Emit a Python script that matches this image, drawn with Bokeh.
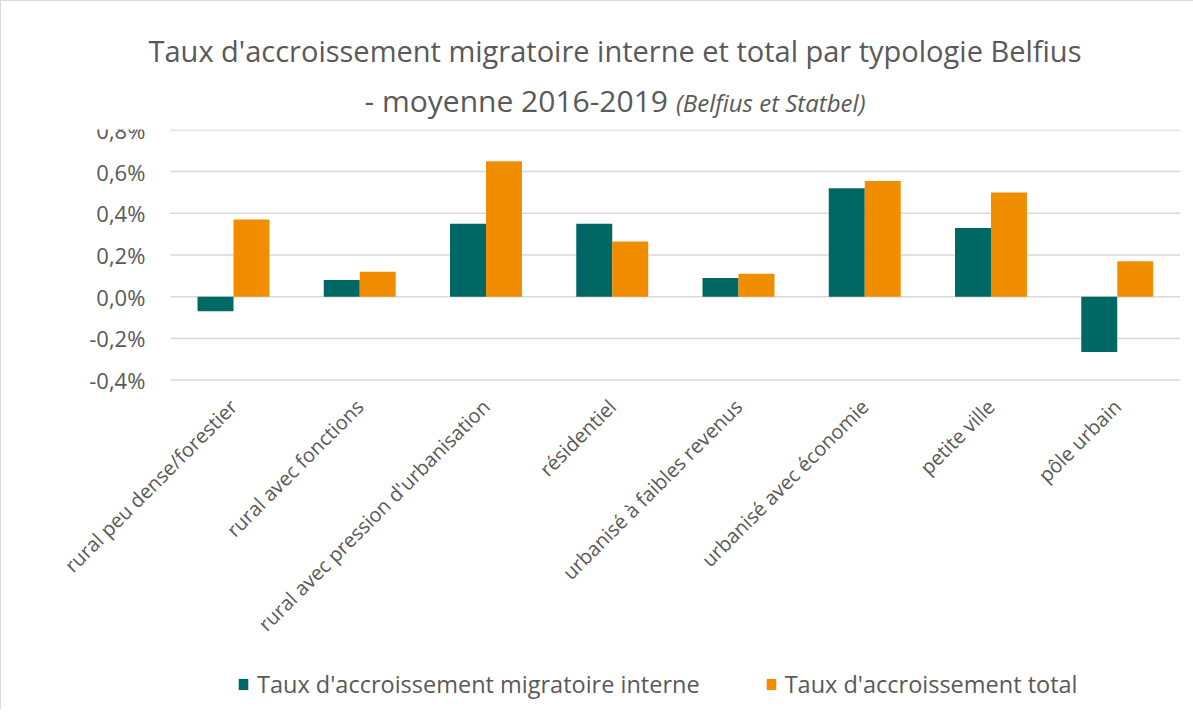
from math import pi
from bokeh.plotting import figure
from bokeh.layouts import column
from bokeh.models import Range1d, Legend, LegendItem, ColumnDataSource, Div
from bokeh.transform import dodge
from bokeh.core.properties import value
from bokeh.embed import file_html
from bokeh.resources import INLINE

categories = ["rural peu dense/forestier", "rural avec fonctions",
              "rural avec pression d'urbanisation", "résidentiel",
              "urbanisé à faibles revenus", "urbanisé avec économie",
              "petite ville", "pôle urbain"]
interne = [-0.07, 0.08, 0.35, 0.35, 0.09, 0.52, 0.33, -0.265]
total = [0.37, 0.12, 0.65, 0.265, 0.11, 0.555, 0.50, 0.17]
y_ticks = [-0.4, -0.2, 0.0, 0.2, 0.4, 0.6, 0.8]
y_labels = [f"{t:.1f}".replace(".", ",") + "%" for t in y_ticks]
series_names = ["Taux d'accroissement migratoire interne", "Taux d'accroissement total"]
title_line1 = "Taux d'accroissement migratoire interne et total par typologie Belfius"
title_line2a = "- moyenne 2016-2019"
title_line2b = "(Belfius et Statbel)"

TEAL = "#006864"
ORANGE = "#F08E00"
GREY = "#595959"
FONT = "Open Sans"

idx = list(range(len(categories)))
src = ColumnDataSource(dict(idx=idx, cat=categories, interne=interne, total=total))

title_div = Div(
    text=(f"<span style='font-size:29px'>{title_line1}</span><br>"
          f"<span style='font-size:30px'>{title_line2a}</span>"
          f"<i style='font-size:24px; margin-left:8px'>{title_line2b}</i>"),
    width=1190, height=110,
    styles={"font-family": FONT, "color": GREY,
            "text-align": "center", "line-height": "43px",
            "padding-top": "24px", "padding-left": "30px",
            "box-sizing": "border-box", "width": "1190px"})

# frame: x from page 40 to 1180 (126.25 px per category), y: 0.8 at 130 and -0.4 at 381
p = figure(x_range=Range1d(-1.5287, 7.501), y_range=Range1d(-1.9802, 0.802),
           x_axis_type=None, y_axis_type=None,
           frame_width=1140, frame_height=580, output_backend="svg", toolbar_location=None,
           min_border_left=40, min_border_right=10, min_border_top=9, min_border_bottom=0)
p.outline_line_color = None
p.border_fill_color = None
p.background_fill_color = None

# horizontal gridlines across the category span
p.segment(x0=-0.5, x1=len(categories) - 0.5, y0=y_ticks, y1=y_ticks,
          line_color="#d9d9d9", line_width=1.5)

r1 = p.vbar(x=dodge("idx", -0.1425), top="interne", bottom=0,
            width=0.285, source=src, fill_color=TEAL, line_color=None)
r2 = p.vbar(x=dodge("idx", 0.1425), top="total", bottom=0,
            width=0.285, source=src, fill_color=ORANGE, line_color=None)

# y tick labels
p.text(x=-0.5, y=y_ticks, text=y_labels, x_offset=-25,
       text_align="right", text_baseline="middle", text_color=GREY,
       text_font=value(FONT), text_font_size="22px")

# category labels, rotated 45 degrees
p.text(x="idx", y=-0.51, text="cat", source=src, angle=pi / 4,
       text_align="right", text_baseline="middle", text_color=GREY,
       text_font=value(FONT), text_font_size="20px")

legend = Legend(items=[LegendItem(label=series_names[0], renderers=[r1]),
                       LegendItem(label=series_names[1], renderers=[r2])],
                location=(197, 9), orientation="horizontal",
                border_line_color=None, background_fill_color=None,
                padding=0, margin=0, spacing=65, glyph_width=12, glyph_height=14,
                label_standoff=8, label_text_font=FONT, label_text_font_size="23.5px",
                label_text_color=GREY)
p.add_layout(legend, "center")

layout = column(title_div, p, spacing=0,
                styles={"box-shadow": "inset 1px 1px 0 0 #d9d9d9"})

open("out.html", "w").write(file_html(layout, INLINE))
